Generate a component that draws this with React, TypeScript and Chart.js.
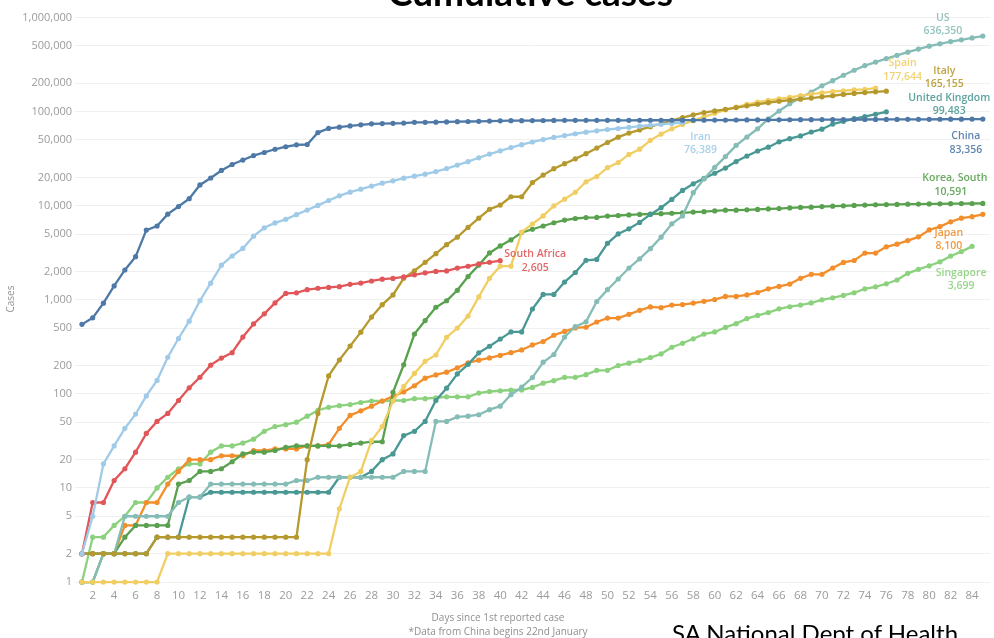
import React, { useEffect, useRef } from "react";
import { Chart, registerables } from "chart.js";

Chart.register(...registerables);

// Cumulative confirmed cases, by days since 1st reported case
const chinaCases = [548, 643, 920, 1406, 2075, 2877, 5509, 6087, 8141, 9802, 11891, 16630, 19716, 23707, 27440, 30587, 34110, 36814, 39829, 42354, 44386, 44759, 59895, 66358, 68413, 70513, 72434, 74211, 74619, 75077, 75550, 77001, 77022, 77241, 77754, 78166, 78600, 78928, 79356, 79932, 80136, 80261, 80386, 80537, 80690, 80770, 80823, 80860, 80887, 80921, 80932, 80945, 80977, 81003, 81033, 81058, 81102, 81156, 81250, 81305, 81435, 81498, 81591, 81661, 81782, 81897, 81999, 82122, 82198, 82279, 82361, 82432, 82511, 82543, 82602, 82665, 82718, 82809, 82883, 82941, 83014, 83134, 83213, 83306, 83356];
const iranCases = [2, 5, 18, 28, 43, 61, 95, 139, 245, 388, 593, 978, 1501, 2336, 2922, 3513, 4747, 5823, 6566, 7161, 8042, 9000, 10075, 11364, 12729, 13938, 14991, 16169, 17361, 18407, 19644, 20610, 21638, 23049, 24811, 27017, 29406, 32332, 35408, 38309, 41495, 44605, 47593, 50468, 53183, 55743, 58226, 60500, 62589, 64586, 66220, 68192, 70029, 71686, 73303, 74877, 76389];
const southAfricaCases = [2, 7, 7, 12, 16, 24, 38, 51, 62, 85, 116, 150, 202, 240, 274, 402, 554, 709, 927, 1170, 1187, 1280, 1326, 1353, 1380, 1462, 1505, 1585, 1655, 1686, 1749, 1845, 1934, 2003, 2028, 2173, 2272, 2415, 2506, 2605];
const italyCases = [2, 2, 2, 2, 2, 2, 2, 3, 3, 3, 3, 3, 3, 3, 3, 3, 3, 3, 3, 3, 3, 20, 62, 155, 229, 322, 453, 655, 888, 1128, 1694, 2036, 2502, 3089, 3858, 4636, 5883, 7375, 9172, 10149, 12462, 12462, 17660, 21157, 24747, 27980, 31506, 35713, 41035, 47021, 53578, 59138, 63927, 69176, 74386, 80589, 86498, 92472, 97689, 101739, 105792, 110574, 115242, 119827, 124632, 128948, 132547, 135586, 139422, 143626, 147577, 152271, 156363, 159516, 162488, 165155];
const spainCases = [1, 1, 1, 1, 1, 1, 1, 1, 2, 2, 2, 2, 2, 2, 2, 2, 2, 2, 2, 2, 2, 2, 2, 2, 6, 13, 15, 32, 45, 84, 120, 165, 222, 259, 400, 500, 673, 1073, 1695, 2277, 2277, 5232, 6391, 7798, 9942, 11748, 13910, 17963, 20410, 25374, 28768, 35136, 39885, 49515, 57786, 65719, 73235, 80110, 87956, 95923, 104118, 112065, 119199, 126168, 131646, 136675, 141942, 148220, 153222, 158273, 163027, 166831, 170099, 172541, 177644];
const usCases = [1, 1, 2, 2, 5, 5, 5, 5, 5, 7, 8, 8, 11, 11, 11, 11, 11, 11, 11, 11, 12, 12, 13, 13, 13, 13, 13, 13, 13, 13, 15, 15, 15, 51, 51, 57, 58, 60, 68, 74, 98, 118, 149, 217, 262, 402, 518, 583, 959, 1281, 1663, 2179, 2727, 3499, 4632, 6421, 7783, 13747, 19273, 25600, 33276, 43847, 53740, 65778, 83836, 101657, 121465, 140909, 161831, 188172, 213242, 243622, 275367, 308650, 336802, 366317, 397121, 428654, 462780, 496535, 526396, 555313, 580619, 607670, 636350];
const ukCases = [2, 2, 2, 2, 2, 2, 2, 3, 3, 3, 8, 8, 9, 9, 9, 9, 9, 9, 9, 9, 9, 9, 9, 9, 13, 13, 13, 15, 20, 23, 36, 40, 51, 85, 115, 163, 206, 273, 321, 382, 456, 456, 798, 1140, 1140, 1543, 1950, 2626, 2689, 3983, 5018, 5683, 6650, 8077, 9529, 11658, 14543, 17089, 19522, 22141, 25150, 29474, 33718, 38168, 41903, 47806, 51608, 55242, 60733, 65077, 73758, 78991, 84279, 88621, 93873, 99483];
const koreaCases = [1, 1, 2, 2, 3, 4, 4, 4, 4, 11, 12, 15, 15, 16, 19, 23, 24, 24, 25, 27, 28, 28, 28, 28, 28, 29, 30, 31, 31, 104, 204, 433, 602, 833, 977, 1261, 1766, 2337, 3150, 3736, 4335, 5186, 5621, 6088, 6593, 7041, 7314, 7478, 7513, 7755, 7869, 7979, 8086, 8162, 8236, 8320, 8413, 8565, 8652, 8799, 8961, 8961, 9037, 9137, 9241, 9332, 9478, 9583, 9661, 9786, 9887, 9976, 10062, 10156, 10237, 10284, 10331, 10384, 10423, 10450, 10480, 10512, 10537, 10564, 10591];
const japanCases = [2, 2, 2, 2, 4, 4, 7, 7, 11, 15, 20, 20, 20, 22, 22, 22, 25, 25, 26, 26, 26, 28, 28, 29, 43, 59, 66, 74, 84, 94, 105, 122, 147, 159, 170, 189, 214, 228, 241, 256, 274, 293, 331, 360, 420, 461, 502, 511, 581, 639, 639, 701, 773, 839, 825, 878, 889, 924, 963, 1007, 1086, 1086, 1128, 1193, 1307, 1387, 1468, 1693, 1866, 1866, 2178, 2495, 2617, 3139, 3139, 3654, 3906, 4257, 4667, 5530, 6005, 6748, 7370, 7645, 8100];
const singaporeCases = [1, 3, 3, 4, 5, 7, 7, 10, 13, 16, 18, 18, 24, 28, 28, 30, 33, 40, 45, 47, 50, 58, 67, 72, 75, 77, 81, 84, 84, 85, 85, 89, 89, 91, 93, 93, 93, 102, 106, 108, 110, 110, 117, 130, 138, 150, 150, 160, 178, 178, 200, 212, 226, 243, 266, 313, 345, 385, 432, 455, 509, 558, 631, 683, 732, 802, 844, 879, 926, 1000, 1049, 1114, 1189, 1309, 1375, 1481, 1623, 1910, 2108, 2299, 2532, 2918, 3252, 3699];

const countryNames = ["China", "Iran", "South Africa", "Italy", "Spain", "US", "United Kingdom", "Korea, South", "Japan", "Singapore"];
const countrySeries = [chinaCases, iranCases, southAfricaCases, italyCases, spainCases, usCases, ukCases, koreaCases, japanCases, singaporeCases];

const yTickValues = [1, 2, 5, 10, 20, 50, 100, 200, 500, 1000, 2000, 5000, 10000, 20000, 50000, 100000, 200000, 500000, 1000000];
const xTickValues = [2, 4, 6, 8, 10, 12, 14, 16, 18, 20, 22, 24, 26, 28, 30, 32, 34, 36, 38, 40, 42, 44, 46, 48, 50, 52, 54, 56, 58, 60, 62, 64, 66, 68, 70, 72, 74, 76, 78, 80, 82, 84];

// styles
const seriesColors: Record<string, string> = {
  China: "#4e79a7",
  Iran: "#a0cbe8",
  "South Africa": "#e15759",
  Italy: "#b6992d",
  Spain: "#f1ce63",
  US: "#86bcb6",
  "United Kingdom": "#499894",
  "Korea, South": "#59a14f",
  Japan: "#f28e2b",
  Singapore: "#8cd17d",
};

// end-label placement relative to the last point (pixels)
const labelOffsets: Record<string, number[]> = {
  China: [-17, 17, -17, 31],
  Iran: [18, 14, 18, 27],
  "South Africa": [35, -7, 35, 7],
  Italy: [58, -20, 58, -7],
  Spain: [27, -25, 27, -11],
  US: [-40, -18, -40, -5],
  "United Kingdom": [63, -14, 63, -1],
  "Korea, South": [-28, -25, -32, -11],
  Japan: [-34, 19, -34, 32],
  Singapore: [-11, 27, -11, 40],
};

const endLabelPlugin = {
  id: "endLabels",
  afterDatasetsDraw(chart: any) {
    const ctx = chart.ctx;
    chart.data.datasets.forEach((ds: any, i: number) => {
      const meta = chart.getDatasetMeta(i);
      const pt = meta.data[meta.data.length - 1];
      const off = labelOffsets[ds.label];
      if (!pt || !off) return;
      const last = ds.data[ds.data.length - 1].y;
      ctx.save();
      ctx.font = '600 10.5px "Open Sans"';
      ctx.fillStyle = ds.borderColor;
      ctx.globalAlpha = 0.9;
      ctx.textAlign = "center";
      ctx.textBaseline = "middle";
      ctx.fillText(ds.label, pt.x + off[0], pt.y + off[1]);
      ctx.fillText(Number(last).toLocaleString("en-US"), pt.x + off[2], pt.y + off[3]);
      ctx.restore();
    });
  },
};

export default function App() {
  const canvasRef = useRef<HTMLCanvasElement>(null);

  useEffect(() => {
    document.body.style.margin = "0";
    const canvas = canvasRef.current;
    if (!canvas) return;
    const datasets = countryNames.map((name, k) => ({
      label: name,
      data: countrySeries[k].map((v, i) => ({ x: i + 1, y: v })),
      borderColor: seriesColors[name],
      backgroundColor: seriesColors[name],
      pointBackgroundColor: seriesColors[name],
      pointBorderWidth: 0,
      pointRadius: 2.6,
      borderWidth: 2.3,
      tension: 0,
      fill: false,
    }));
    const chart = new Chart(canvas, {
      type: "line",
      data: { datasets },
      options: {
        responsive: false,
        animation: false,
        devicePixelRatio: 1,
        layout: { padding: { top: 8, right: 0, bottom: 0, left: 0 } },
        plugins: { legend: { display: false }, tooltip: { enabled: false }, title: { display: false } },
        scales: {
          x: {
            type: "linear",
            min: 0.35,
            max: 85.67,
            afterBuildTicks: (scale: any) => {
              scale.ticks = xTickValues.map((v) => ({ value: v }));
            },
            afterFit: (scale: any) => {
              scale.height = 50;
            },
            grid: { display: false, drawTicks: false },
            border: { display: false },
            ticks: {
              padding: 1,
              color: "#9b9b9b",
              font: { family: "Open Sans", size: 11.5 },
              maxRotation: 0,
              autoSkip: false,
              callback: (v: any) => String(v),
            },
          },
          y: {
            type: "logarithmic",
            min: 0.864,
            max: 1215500,
            afterBuildTicks: (scale: any) => {
              scale.ticks = yTickValues.map((v) => ({ value: v }));
            },
            afterFit: (scale: any) => {
              scale.width = 75;
            },
            grid: { color: "#f0f0f0", lineWidth: 1, drawTicks: false },
            border: { display: false },
            ticks: {
              padding: 3,
              color: "#9b9b9b",
              font: { family: "Open Sans", size: 11 },
              autoSkip: false,
              callback: (v: any) => Number(v).toLocaleString("en-US"),
            },
          },
        },
      },
      plugins: [endLabelPlugin],
    } as any);
    return () => chart.destroy();
  }, []);

  return (
    <div style={{ position: "absolute", left: 0, top: 0, width: 994, height: 638, overflow: "hidden", background: "#fff" }}>
      <canvas ref={canvasRef} width={994} height={638} style={{ position: "absolute", left: 0, top: 0, width: 994, height: 638 }} />
      <div style={{ position: "absolute", left: 388, top: -27, fontFamily: "Lato", fontWeight: 700, fontSize: 37, lineHeight: "37px", color: "#000", whiteSpace: "nowrap" }}>
        Cumulative cases
      </div>
      <div style={{ position: "absolute", left: -20, top: 292, width: 60, textAlign: "center", transform: "rotate(-90deg)", fontFamily: "Open Sans", fontSize: 10, lineHeight: "14px", color: "#8f8f8f" }}>
        Cases
      </div>
      <div style={{ position: "absolute", left: 348, width: 300, top: 610, textAlign: "center", fontFamily: "Open Sans", fontSize: 10, lineHeight: "14px", color: "#8f8f8f" }}>
        Days since 1st reported case
        <br />
        *Data from China begins 22nd January
      </div>
      <div style={{ position: "absolute", left: 672, top: 621, fontFamily: "Lato", fontSize: 24, lineHeight: "24px", color: "#000", whiteSpace: "nowrap" }}>
        SA National Dept of Health
      </div>
    </div>
  );
}
